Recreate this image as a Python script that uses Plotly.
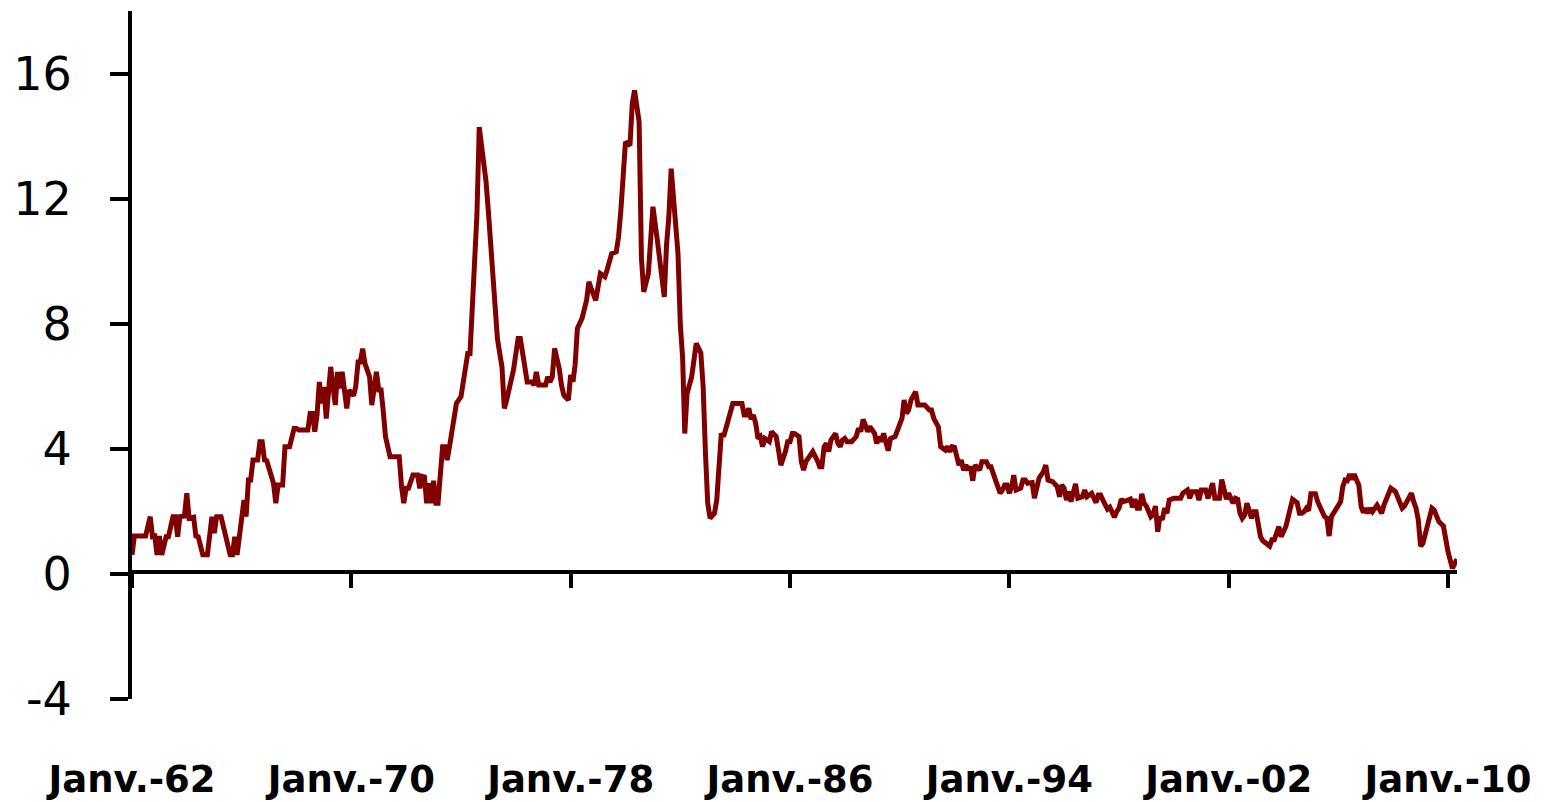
import plotly.graph_objects as go

# ---- data (monthly series, vertices) ----
dates_1960s = ["1962-01","1962-02","1962-07","1962-09","1962-10","1962-11","1962-12",
    "1963-01","1963-02","1963-03","1963-04","1963-05","1963-07","1963-08","1963-09","1963-10","1963-12",
    "1964-01","1964-02","1964-04","1964-05","1964-06","1964-08","1964-10","1964-11","1964-12",
    "1965-01","1965-02","1965-04","1965-08","1965-09","1965-10","1965-11","1965-12",
    "1966-01","1966-02","1966-03","1966-04","1966-05","1966-06","1966-08","1966-09","1966-10","1966-11","1966-12",
    "1967-03","1967-04","1967-05","1967-07","1967-08","1967-10","1967-12",
    "1968-01","1968-02","1968-06","1968-07","1968-08","1968-09","1968-10","1968-11","1968-12",
    "1969-01","1969-02","1969-03","1969-04","1969-05","1969-06","1969-07","1969-08","1969-09","1969-10","1969-11","1969-12"]
values_1960s = [0.61,1.21,1.21,1.83,1.19,1.21,0.61,
    1.21,0.61,0.93,1.19,1.19,1.83,1.83,1.19,1.83,1.85,
    2.58,1.78,1.81,1.21,1.19,0.61,0.61,1.19,1.83,
    1.3,1.83,1.83,0.61,0.61,1.19,0.61,1.19,
    1.83,2.36,1.83,3.0,3.0,3.64,3.64,4.23,4.23,3.64,3.62,
    2.9,2.26,2.84,2.84,4.07,4.07,4.65,
    4.65,4.6,4.6,5.13,5.13,4.55,5.08,6.14,5.45,
    5.98,4.97,6.04,6.62,6.0,5.4,6.46,5.93,6.46,5.88,5.29,5.88]

dates_1970s = ["1970-02","1970-03","1970-04","1970-05","1970-06","1970-07","1970-09","1970-10","1970-11","1970-12",
    "1971-01","1971-02","1971-03","1971-04","1971-06","1971-10","1971-11","1971-12",
    "1972-01","1972-02","1972-04","1972-06","1972-07","1972-08","1972-09","1972-10","1972-11","1972-12",
    "1973-01","1973-02","1973-03","1973-04","1973-05","1973-06","1973-07","1973-08","1973-09","1973-11",
    "1974-01","1974-02","1974-03","1974-04","1974-05","1974-06","1974-07","1974-08","1974-09","1974-11","1974-12",
    "1975-01","1975-02","1975-03","1975-04","1975-05","1975-06","1975-07","1975-08","1975-09","1975-12",
    "1976-02","1976-03","1976-04","1976-05","1976-06","1976-08","1976-09","1976-10","1976-11",
    "1977-02","1977-03","1977-04","1977-05","1977-06","1977-08","1977-09","1977-10","1977-12",
    "1978-01","1978-02","1978-03","1978-04","1978-06","1978-08","1978-09","1978-10","1978-12",
    "1979-02","1979-04","1979-05","1979-06","1979-07","1979-09","1979-10","1979-11","1979-12"]
values_1970s = [5.7,6.0,6.78,6.78,7.2,6.73,6.3,5.4,5.88,6.46,
    5.88,5.88,5.24,4.39,3.75,3.75,2.79,2.26,
    2.74,2.74,3.16,3.16,2.74,3.12,3.1,2.26,2.9,2.26,
    2.98,2.26,2.26,3.16,4.07,4.07,3.64,4.07,4.6,5.45,
    5.67,6.25,6.62,7.05,7.05,8.75,10.03,11.47,14.29,13.23,12.53,
    11.58,10.62,9.34,8.38,7.53,7.05,6.62,5.29,5.56,6.52,
    7.53,7.53,7.05,6.62,6.14,6.14,6.04,6.46,6.04,
    6.04,6.3,6.14,6.3,7.21,6.57,6.04,5.72,5.56,
    6.36,6.15,6.68,7.85,8.17,8.75,9.34,9.13,8.75,
    9.6,9.5,9.72,9.93,10.24,10.3,10.78,11.63,12.75]

dates_1980s = ["1980-01","1980-03","1980-04","1980-05","1980-06","1980-07","1980-08","1980-09","1980-11",
    "1981-01","1981-03","1981-04","1981-05","1981-06","1981-07","1981-08","1981-09","1981-10","1981-11","1981-12",
    "1982-01","1982-02","1982-03","1982-04","1982-06","1982-07","1982-08","1982-10","1982-11","1982-12",
    "1983-01","1983-02","1983-04","1983-05","1983-06","1983-07","1983-08","1983-09","1983-10","1983-11","1983-12",
    "1984-04","1984-05","1984-06","1984-07","1984-08","1984-09","1984-10","1984-11","1984-12",
    "1985-01","1985-02","1985-04","1985-05","1985-07","1985-08","1985-09","1985-11","1985-12",
    "1986-01","1986-02","1986-03","1986-05","1986-06","1986-07","1986-08","1986-11",
    "1987-01","1987-02","1987-03","1987-04","1987-05","1987-06","1987-07","1987-08","1987-09","1987-10","1987-11","1987-12",
    "1988-01","1988-02","1988-04","1988-06","1988-07","1988-08","1988-09","1988-10","1988-11","1988-12",
    "1989-01","1989-02","1989-03","1989-04","1989-05","1989-06","1989-08","1989-09","1989-11"]
values_1980s = [13.81,13.7,15.04,15.46,14.77,14.45,10.09,9.02,9.6,
    11.74,10.67,9.93,9.55,8.86,10.51,11.42,12.96,12.0,10.99,10.24,
    7.96,6.89,4.49,5.77,6.3,6.73,7.37,7.07,5.98,3.91,
    2.26,1.78,1.94,2.36,3.32,4.49,4.39,4.65,4.97,5.24,5.45,
    5.45,5.08,5.08,5.3,4.95,5.08,4.81,4.33,4.39,
    4.07,4.33,4.23,4.55,4.39,3.96,3.48,3.91,4.23,
    4.23,4.49,4.49,4.39,3.59,3.32,3.59,3.91,
    3.62,3.43,3.43,4.07,4.17,3.91,4.28,4.39,4.49,4.17,4.07,4.28,
    4.33,4.23,4.23,4.39,4.65,4.55,4.94,4.76,4.55,4.71,
    4.6,4.49,4.17,4.39,4.23,4.49,3.94,4.33,4.39]

dates_1990s = ["1990-02","1990-03","1990-04","1990-05","1990-06","1990-08","1990-09","1990-12",
    "1991-02","1991-03","1991-04","1991-06","1991-07","1991-09","1991-10","1991-11","1991-12",
    "1992-01","1992-03","1992-04","1992-05","1992-06","1992-07","1992-08","1992-09","1992-10","1992-12",
    "1993-01","1993-03","1993-04","1993-05","1993-07","1993-09","1993-10","1993-11","1993-12",
    "1994-01","1994-02","1994-03","1994-04","1994-06","1994-07","1994-08","1994-09","1994-11","1994-12",
    "1995-02","1995-04","1995-05","1995-06","1995-08","1995-10","1995-11","1995-12",
    "1996-01","1996-02","1996-03","1996-04","1996-05","1996-06","1996-07","1996-09","1996-10","1996-11",
    "1997-01","1997-02","1997-03","1997-04","1997-05","1997-06","1997-08","1997-09","1997-11","1997-12",
    "1998-01","1998-02","1998-03","1998-05","1998-06","1998-07","1998-08","1998-09","1998-10","1998-11","1998-12",
    "1999-01","1999-02","1999-03","1999-04","1999-05","1999-06","1999-07","1999-08","1999-09","1999-10","1999-11"]
values_1990s = [4.97,5.56,5.13,5.24,5.56,5.83,5.4,5.4,
    5.24,5.24,4.97,4.7,4.07,3.96,4.07,3.91,4.07,
    4.05,3.48,3.64,3.32,3.48,3.32,3.43,2.98,3.48,3.32,
    3.59,3.59,3.43,3.43,3.0,2.58,2.68,2.84,2.84,
    2.58,2.79,3.16,2.68,2.74,3.0,3.0,2.9,2.92,2.42,
    3.06,3.27,3.48,3.0,2.95,2.79,2.47,2.84,
    2.74,2.36,2.63,2.31,2.63,2.88,2.42,2.47,2.68,2.47,
    2.58,2.45,2.28,2.52,2.52,2.36,2.07,2.13,1.81,1.99,
    2.1,2.39,2.31,2.36,2.39,2.13,2.39,2.1,2.1,2.56,2.26,
    2.17,1.94,1.83,1.9,2.17,1.35,1.83,1.73,2.1,1.94,2.36]

dates_2000s = ["2000-01","2000-04","2000-05","2000-07","2000-08","2000-09","2000-11","2000-12",
    "2001-01","2001-03","2001-04","2001-05","2001-06","2001-07","2001-09","2001-10","2001-11","2001-12",
    "2002-01","2002-02","2002-03","2002-04","2002-05","2002-06","2002-07","2002-08","2002-09","2002-10","2002-11","2002-12",
    "2003-01","2003-03","2003-04","2003-07","2003-08","2003-09","2003-11","2003-12",
    "2004-02","2004-03","2004-04","2004-05","2004-07","2004-08","2004-09","2004-10","2004-11","2004-12",
    "2005-01","2005-03","2005-04","2005-05","2005-06","2005-07","2005-08","2005-09","2005-10","2005-11",
    "2006-01","2006-02","2006-03","2006-04","2006-05","2006-06","2006-07","2006-08","2006-09","2006-10","2006-11","2006-12",
    "2007-01","2007-02","2007-03","2007-04","2007-06","2007-07","2007-08","2007-09","2007-10","2007-11","2007-12",
    "2008-02","2008-03","2008-05","2008-06","2008-07","2008-09","2008-10","2008-11","2008-12",
    "2009-01","2009-02","2009-03","2009-04","2009-05","2009-06","2009-07","2009-09","2009-11",
    "2010-01","2010-03","2010-04","2010-05"]
values_2000s = [2.42,2.42,2.58,2.68,2.42,2.63,2.63,2.36,
    2.68,2.68,2.42,2.63,2.9,2.42,2.42,3.02,2.68,2.39,
    2.58,2.36,2.26,2.42,2.39,1.94,1.78,1.88,2.26,2.04,1.78,1.99,
    1.99,1.19,1.06,0.89,1.09,1.09,1.51,1.19,
    1.51,1.78,2.04,2.39,2.28,1.94,1.94,1.99,2.1,2.02,
    2.56,2.56,2.31,2.15,2.07,1.83,1.78,1.21,1.83,1.94,
    2.2,2.31,2.79,3.0,2.98,3.19,3.02,3.19,3.0,2.84,2.15,1.96,
    2.1,1.94,2.1,1.99,2.2,2.07,1.94,2.2,2.39,2.49,2.74,
    2.63,2.47,2.1,2.17,2.28,2.58,2.31,2.1,1.73,
    0.89,0.98,1.25,1.6,1.78,2.1,2.04,1.67,1.53,
    0.71,0.18,0.36,0.47]

tick_dates = ["1962-01-01","1970-01-01","1978-01-01","1986-01-01","1994-01-01","2002-01-01","2010-01-01"]
tick_labels = ["Janv.-62","Janv.-70","Janv.-78","Janv.-86","Janv.-94","Janv.-02","Janv.-10"]
y_ticks = [-4, 0, 4, 8, 12, 16]

dates = dates_1960s + dates_1970s + dates_1980s + dates_1990s + dates_2000s
values = values_1960s + values_1970s + values_1980s + values_1990s + values_2000s

Y_MIN, Y_MAX = -4, 18

fig = go.Figure()
fig.add_trace(go.Scatter(
    x=[d + "-01" for d in dates], y=values, mode="lines",
    line=dict(color="#800000", width=5), showlegend=False, hoverinfo="x+y"))

# the page body adds an 8px offset, so the figure is sized to fit the window
fig.update_layout(
    width=1547, height=794,
    margin=dict(l=124, r=98, t=3, b=103),
    paper_bgcolor="white", plot_bgcolor="white",
    showlegend=False,
    xaxis=dict(
        type="date", range=["1962-01-01", "2010-05-01"],
        anchor="free", position=(0 - Y_MIN) / (Y_MAX - Y_MIN) + 0.003,
        automargin=False,
        showline=True, linecolor="black", linewidth=4,
        showgrid=False, zeroline=False,
        ticks="outside", ticklen=14, tickwidth=4, tickcolor="black",
        tickvals=tick_dates, ticktext=tick_labels,
        ticklabelstandoff=160,
        tickfont=dict(family="DejaVu Sans", size=37, color="black", weight="bold"),
    ),
    yaxis=dict(
        range=[Y_MIN, Y_MAX], domain=[0, 1],
        automargin=False,
        showline=True, linecolor="black", linewidth=4,
        showgrid=False, zeroline=False,
        ticks="outside", ticklen=18, tickwidth=4, tickcolor="black",
        tickvals=y_ticks, ticktext=[str(v) for v in y_ticks],
        ticklabelstandoff=29,
        tickfont=dict(family="DejaVu Sans", size=46, color="black"),
    ),
)

fig.write_html("out.html")
